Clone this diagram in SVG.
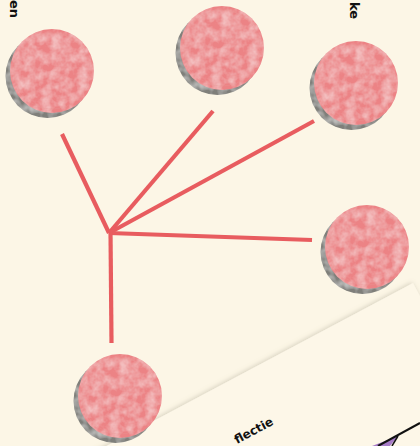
<svg xmlns="http://www.w3.org/2000/svg" width="420" height="446" viewBox="0 0 420 446">
<defs>
<filter id="wc" x="-5%" y="-5%" width="110%" height="110%">
<feTurbulence type="fractalNoise" baseFrequency="0.11" numOctaves="3" seed="4" result="n"/>
<feColorMatrix in="n" type="matrix" values="0 0 0 0 1  0 0 0 0 1  0 0 0 0 1  0.7 0 0 0 -0.22" result="w"/>
<feComposite in="w" in2="SourceGraphic" operator="in" result="wi"/>
<feMerge><feMergeNode in="SourceGraphic"/><feMergeNode in="wi"/></feMerge>
</filter>
<filter id="gn" x="-5%" y="-5%" width="110%" height="110%">
<feTurbulence type="fractalNoise" baseFrequency="0.12" numOctaves="2" seed="7" result="n"/>
<feColorMatrix in="n" type="matrix" values="0 0 0 0 1  0 0 0 0 1  0 0 0 0 1  0.8 0 0 0 -0.25" result="w"/>
<feComposite in="w" in2="SourceGraphic" operator="in" result="wi"/>
<feMerge><feMergeNode in="SourceGraphic"/><feMergeNode in="wi"/></feMerge>
</filter>
<filter id="cardsh" x="-20%" y="-20%" width="140%" height="140%">
<feDropShadow dx="-1" dy="-1" stdDeviation="2.5" flood-color="#8a8470" flood-opacity="0.35"/>
</filter>
<g id="dot">
<circle cx="-4.5" cy="5" r="42" fill="#7f7f7a" filter="url(#gn)"/>
<circle cx="0" cy="0" r="42" fill="#ec8385" filter="url(#wc)"/>
<circle cx="0" cy="0" r="38" fill="none" stroke="#e99a98" stroke-width="0.6" opacity="0.5"/>
</g>
</defs>
<style>
.lbl{font-family:"DejaVu Sans","Liberation Sans",sans-serif;font-weight:bold;font-size:13px;fill:#111}
.con{stroke:#e85c5f;stroke-width:4.2;fill:none;stroke-linecap:butt}
</style>
<rect width="420" height="446" fill="#fcf6e6"/>
<g id="card">
<g transform="translate(413,283) rotate(-28)">
<rect x="-600" y="0" width="600" height="400" fill="#fdf7e8" filter="url(#cardsh)"/>
</g>
<text class="lbl" style="font-size:12px" transform="translate(237,444) rotate(-28)">flectie</text>
<path d="M372 446 L398 436 L390 446 Z" fill="#a77bc8"/>
<path d="M378 446 L420 423" stroke="#111" stroke-width="2" fill="none"/>
<path d="M398 436 L392 446" stroke="#111" stroke-width="1.5" fill="none"/>
</g>
<g id="labels">
<text class="lbl" transform="translate(10,0) rotate(90)">en</text>
<text class="lbl" transform="translate(350,2) rotate(90)">ke</text>
</g>
<g id="connectors">
<line class="con" x1="109" y1="233" x2="62" y2="134"/>
<line class="con" x1="109" y1="233" x2="213" y2="111"/>
<line class="con" x1="109" y1="233" x2="314" y2="121"/>
<line class="con" x1="109" y1="233" x2="312" y2="240"/>
<line class="con" x1="110.5" y1="231" x2="111.5" y2="343"/>
</g>
<g id="node-1"><use href="#dot" x="52" y="71"/></g>
<g id="node-2"><use href="#dot" x="222" y="48"/></g>
<g id="node-3"><use href="#dot" x="356" y="83"/></g>
<g id="node-4"><use href="#dot" x="367" y="247"/></g>
<g id="node-5"><use href="#dot" x="120" y="396"/></g>
</svg>
